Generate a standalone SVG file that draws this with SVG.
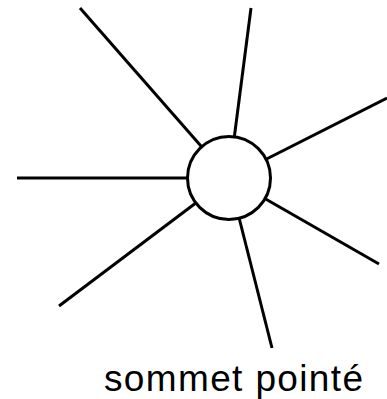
<svg xmlns="http://www.w3.org/2000/svg" width="387" height="399" viewBox="0 0 387 399">
<style>
.e{stroke:#000;stroke-width:3;fill:none}
.n{stroke:#000;stroke-width:3;fill:#fff}
.t{font-family:"Liberation Sans","DejaVu Sans",sans-serif;font-size:37px;fill:#000}
</style>
<rect width="387" height="399" fill="#fff"/>
<g id="connectors">
<line class="e" x1="80" y1="8" x2="229" y2="178"/>
<line class="e" x1="251" y1="8" x2="229" y2="178"/>
<line class="e" x1="387" y1="98" x2="229" y2="178"/>
<line class="e" x1="17" y1="178" x2="229" y2="178"/>
<line class="e" x1="59" y1="306" x2="229" y2="178"/>
<line class="e" x1="272" y1="348" x2="229" y2="178"/>
<line class="e" x1="379" y1="264" x2="229" y2="178"/>
</g>
<g id="vertex">
<circle class="n" cx="229" cy="178" r="41.5"/>
</g>
<g id="label">
<text class="t" x="104" y="391" textLength="259" lengthAdjust="spacing">sommet pointé</text>
</g>
</svg>
